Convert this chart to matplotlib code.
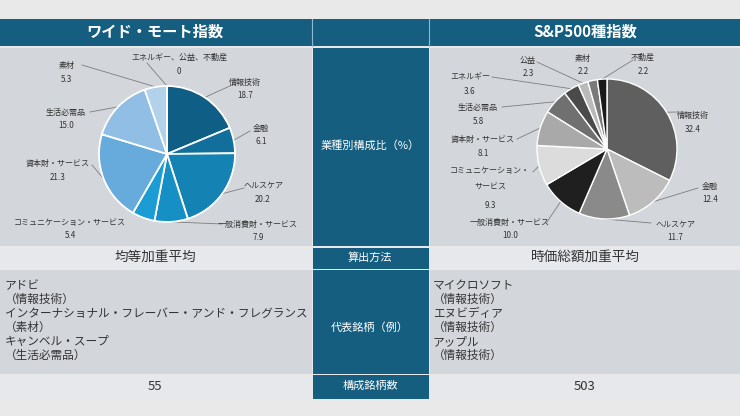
import numpy as np
import matplotlib
matplotlib.use('Agg')
import matplotlib.pyplot as plt
from matplotlib.patches import Rectangle

plt.rcParams['font.family'] = ['Noto Sans CJK JP', 'DejaVu Sans']

# data
wm_title = 'ワイド・モート指数'
sp_title = 'S&P500種指数'
wm_sectors = ['情報技術', '金融', 'ヘルスケア', '一般消費財・サービス', 'コミュニケーション・サービス',
              '資本財・サービス', '生活必需品', '素材', 'エネルギー、公益、不動産']
wm_values = [18.7, 6.1, 20.2, 7.9, 5.4, 21.3, 15.0, 5.3, 0]
wm_colors = ['#0f5e86', '#126f9b', '#1483b4', '#1690c4', '#1b9cd5',
             '#66abdc', '#90bee4', '#b2d1ea', '#c8def0']

sp_sectors = ['情報技術', '金融', 'ヘルスケア', '一般消費財・サービス', 'コミュニケーション・\nサービス',
              '資本財・サービス', '生活必需品', 'エネルギー', '公益', '素材', '不動産']
sp_values = [32.4, 12.4, 11.7, 10.0, 9.3, 8.1, 5.8, 3.6, 2.3, 2.2, 2.2]
sp_colors = ['#5f5f5f', '#bcbcbc', '#8a8a8a', '#1f1f1f', '#dcdcdc',
             '#a9a9a9', '#707070', '#4a4a4a', '#bababa', '#7a7a7a', '#1a1a1a']

row_heads = ['業種別構成比（%）', '算出方法', '代表銘柄（例）', '構成銘柄数']
wm_method = '均等加重平均'
sp_method = '時価総額加重平均'
wm_examples = ['アドビ', '（情報技術）', 'インターナショナル・フレーバー・アンド・フレグランス',
               '（素材）', 'キャンベル・スープ', '（生活必需品）']
sp_examples = ['マイクロソフト', '（情報技術）', 'エヌビディア', '（情報技術）', 'アップル', '（情報技術）']
wm_count = 55
sp_count = 503

# label layout (pixel): text centre x, first line y, leader end
wm_lab = [(245, 82, (232, 85)), (261, 128, (250, 131)), (263, 185, (244, 188)),
          (258, 224, (222, 224)), (70, 222, None), (58, 163, (92, 165)),
          (66, 112, (90, 112)), (67, 65, (82, 65)), (179, 57, (147, 63))]
sp_lab = [(693, 115, (678, 112)), (710, 186, (698, 188)), (675, 224, (651, 223)),
          (510, 222, (547, 222)), (490, 170, (533, 172)), (483, 139, (517, 139)),
          (478, 107, (502, 107)), (470, 77, (492, 77)), (528, 60, (537, 62)),
          (583, 58, None), (643, 57, (633, 60))]

W, H = 740, 416
blue = '#155e80'
dark = '#d3d6db'
light = '#e6e8eb'
txt = '#333333'

fig = plt.figure(figsize=(W / 100, H / 100), dpi=100)
fig.patch.set_facecolor('#e9e9e9')
ax = fig.add_axes([0, 0, 1, 1])
ax.set_xlim(0, W)
ax.set_ylim(H, 0)
ax.axis('off')

xl, xm0, xm1 = 0, 311.5, 428.5
rows = [(18.5, 46, None), (48, 246, dark), (247.5, 269, light), (270, 374, dark), (375, 399, light)]
for y0, y1, c in rows:
    if c is None:
        ax.add_patch(Rectangle((0, y0), W, y1 - y0, color=blue, lw=0))
        continue
    ax.add_patch(Rectangle((0, y0), xm0, y1 - y0, color=c, lw=0))
    ax.add_patch(Rectangle((xm1 + 1, y0), W - xm1 - 1, y1 - y0, color=c, lw=0))
    ax.add_patch(Rectangle((xm0 + 1, y0), xm1 - xm0 - 1, y1 - y0, color=blue, lw=0))
ax.plot([xm0 + 0.5, xm0 + 0.5], [18.5, 46], color='#8fb9cf', lw=0.8)
ax.plot([xm1 + 0.5, xm1 + 0.5], [18.5, 46], color='#8fb9cf', lw=0.8)

# header
ax.text(155, 32, wm_title, color='white', fontsize=11, fontweight='bold', ha='center', va='center')
ax.text(585, 32, sp_title, color='white', fontsize=11, fontweight='bold', ha='center', va='center')

# middle column heads
for s, y in zip(row_heads, [146, 258, 328, 386]):
    ax.text(370, y, s, color='white', fontsize=8, ha='center', va='center')

ax.text(155, 257, wm_method, color=txt, fontsize=9.8, ha='center', va='center')
ax.text(585, 257, sp_method, color=txt, fontsize=9.8, ha='center', va='center')
ax.text(155, 386, str(wm_count), color=txt, fontsize=9.5, ha='center', va='center')
ax.text(585, 386, str(sp_count), color=txt, fontsize=9.5, ha='center', va='center')
for i, s in enumerate(wm_examples):
    ax.text(5, 286 + i * 13.8, s, color=txt, fontsize=8.4, ha='left', va='center')
for i, s in enumerate(sp_examples):
    ax.text(433, 286 + i * 13.8, s, color=txt, fontsize=8.4, ha='left', va='center')


def draw_pie(cx, cy, r, values, colors, names, layout, lw):
    pax = fig.add_axes([(cx - r) / W, 1 - (cy + r) / H, 2 * r / W, 2 * r / H])
    pax.pie(values, colors=colors, startangle=90, counterclock=False, radius=1,
            wedgeprops=dict(edgecolor='white', linewidth=lw))
    pax.set_xlim(-1, 1)
    pax.set_ylim(-1, 1)
    pax.axis('off')
    total = sum(values)
    cum = np.cumsum([0] + list(values))
    for i, (name, v) in enumerate(zip(names, values)):
        x, y, end = layout[i]
        mid = np.deg2rad(90 - 360 * (cum[i] + v / 2) / total)
        if end is not None:
            px, py = cx + r * np.cos(mid), cy - r * np.sin(mid)
            ax.plot([px, end[0]], [py, end[1]], color='#7d7d7d', lw=0.6, zorder=1)
        lines = name.split('\n') + ['0' if v == 0 else f'{v:.1f}']
        step = 14 if len(lines) == 2 else 17.5
        for j, s in enumerate(lines):
            ax.text(x, y + j * step, s, color=txt, fontsize=5.8, ha='center', va='center', zorder=3)


draw_pie(167, 154, 68, wm_values, wm_colors, wm_sectors, wm_lab, 1.3)
draw_pie(607, 149, 70, sp_values, sp_colors, sp_sectors, sp_lab, 1.0)

plt.savefig('out.png', dpi=100)
